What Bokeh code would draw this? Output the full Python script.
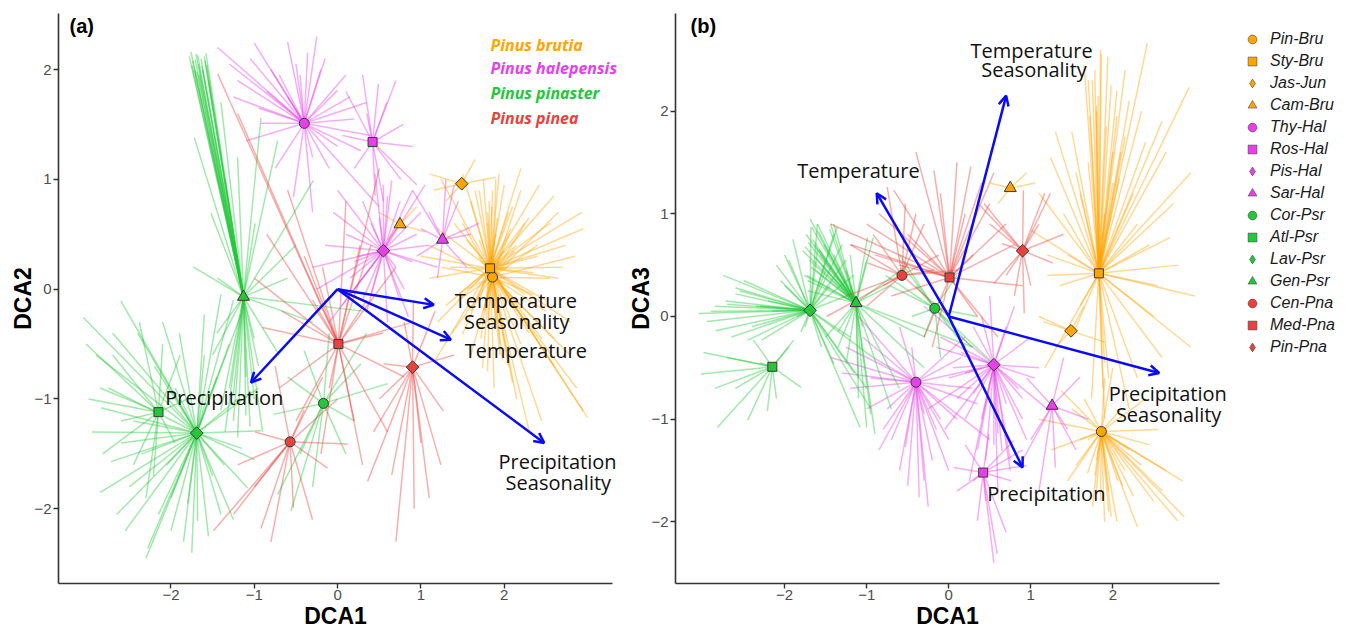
import math
from bokeh.plotting import figure
from bokeh.models import (ColumnDataSource, Arrow, OpenHead, LabelSet, Label, Legend,
                          LegendItem, FixedTicker, Range1d, LinearAxis)
from bokeh.core.properties import value
from bokeh.embed import file_html
from bokeh.resources import INLINE

# ---------------- data ----------------
groups = ["Pin-Bru", "Sty-Bru", "Jas-Jun", "Cam-Bru", "Thy-Hal", "Ros-Hal", "Pis-Hal", "Sar-Hal",
          "Cor-Psr", "Atl-Psr", "Lav-Psr", "Gen-Psr", "Cen-Pna", "Med-Pna", "Pin-Pna"]
species = ["Pinus brutia"] * 4 + ["Pinus halepensis"] * 4 + ["Pinus pinaster"] * 4 + ["Pinus pinea"] * 3
shapes = ["circle", "square", "diamond", "triangle"] * 3 + ["circle", "square", "diamond"]

cen_dca1 = [1.86, 1.83, 1.49, 0.75, -0.40, 0.42, 0.55, 1.26, -0.17, -2.15, -1.69, -1.13, -0.57, 0.01, 0.90]
cen_dca2 = [0.11, 0.19, 0.96, 0.59, 1.51, 1.34, 0.35, 0.45, -1.04, -1.12, -1.31, -0.07, -1.39, -0.50, -0.71]
cen_dca3 = [-1.12, 0.42, -0.14, 1.25, -0.64, -1.52, -0.47, -0.87, 0.08, -0.49, 0.06, 0.13, 0.40, 0.38, 0.64]

# sample scores (DCA1, DCA2, DCA3) per group
pin_bru_dca1 = [2.06, 2.79, 1.69, 1.37, 2.87, 2.50, 1.95, 1.80, 2.20, 1.50, 2.40, 1.60, 2.10, 2.65, 1.25, 1.90, 2.30, 1.75, 2.00, 1.45, 2.55, 2.85, 1.65, 2.15, 1.10, 2.45,
                1.95, 1.80, 2.25, 1.55, 2.05, 2.35, 1.70, 2.60, 1.85, 1.98, 1.90, 2.12, 1.78]
pin_bru_dca2 = [0.50, -0.60, 0.30, -0.40, -0.90, -0.20, -0.50, 0.70, 0.90, 0.60, 0.40, -0.60, -0.85, 0.70, 0.20, 1.00, -0.40, -0.20, 0.10, -0.10, 0.10, 0.30, 0.90, -1.00, 0.40, -1.20,
                0.25, -0.30, 0.60, 0.00, -0.70, -0.05, 0.45, -0.45, 0.75, -0.65, 0.15, 0.35, -0.15]
pin_bru_dca3 = [-1.60, -1.99, -1.53, -0.72, -1.95, -1.80, -1.70, -1.40, -1.30, -0.90, -0.80, -1.20, -0.90, -1.50, -1.30, -0.60, -2.05, -1.85, -0.50, -1.60, -1.10, -1.60, -0.80, -1.50, -1.00, -1.25,
                -1.90, -1.70, -1.75, -1.45, -2.00, -1.45, -1.20, -1.70, -1.80, -1.95, -2.00, -1.65, -1.55]

sty_bru_dca1 = [2.42, 1.94, 2.93, 2.20, 1.70, 2.60, 1.24, 1.50, 2.10, 1.80, 2.74, 2.70, 2.50, 2.95, 1.00, 1.10, 1.35, 1.20, 1.60, 2.00, 2.30, 1.90, 1.50, 1.17, 1.74, 2.30, 2.95, 3.00, 2.60, 2.20, 1.90, 1.60, 2.80, 2.40, 1.85, 2.05, 1.70, 2.15, 1.40, 2.55,
                1.55, 2.05, 2.25, 1.45, 1.95, 2.35, 1.65, 2.15, 1.75, 1.88, 2.45, 1.30, 2.65, 1.20,
                1.82, 1.92, 1.78, 2.00, 1.86, 1.72, 1.98, 2.08, 1.80, 1.90]
sty_bru_dca2 = [0.95, 1.05, 0.70, 1.10, 0.90, 0.85, 1.00, 1.05, 0.75, 0.60, 0.40, 0.20, -0.10, 0.55, 0.30, 0.10, 0.20, 0.55, 0.80, 0.95, 0.65, 0.50, -0.41, -0.65, -0.72, -1.29, -1.11, -1.17, -0.70, -0.50, -0.30, -0.20, -0.30, 0.30, 0.30, 0.20, -0.10, -0.20, 0.60, 0.60,
                0.45, 0.70, -0.05, -0.05, -0.60, 0.15, 0.05, 0.40, 1.00, -0.90, -0.45, -0.15, 0.10, -0.30,
                0.80, 0.65, -0.20, 0.35, 0.90, -0.45, 0.05, 0.55, -0.75, 0.20]
sty_bru_dca3 = [2.66, 2.53, 2.23, 2.10, 2.30, 1.90, 1.55, 1.80, 1.60, 2.00, 1.10, 0.77, 0.00, 1.40, 0.84, 1.20, 0.30, 0.60, 1.20, 1.30, 0.90, 1.00, -0.20, -0.50, -0.80, -0.60, -0.30, 0.20, -0.40, -0.90, -1.00, 0.10, 0.50, 1.70, 2.60, 1.95, 1.50, 2.40, 1.00, 0.30,
                1.40, 2.20, 1.20, 0.60, -0.60, 2.00, 2.45, 1.75, 2.30, -0.70, 0.70, 1.80, 1.60, 0.40,
                2.15, 1.85, 2.40, 1.60, 2.55, 1.95, 2.25, 1.35, 2.05, -0.45]

jas_jun_dca1 = [1.10, 1.90, 1.30, 1.65, 1.15]
jas_jun_dca2 = [1.05, 1.02, 0.80, 1.18, 0.90]
jas_jun_dca3 = [0.00, -0.25, -0.30, 0.10, -0.05]

cam_bru_dca1 = [0.50, 1.05, 0.60, 0.95]
cam_bru_dca2 = [0.70, 0.52, 0.45, 0.75]
cam_bru_dca3 = [1.30, 1.30, 1.10, 1.40]

thy_hal_dca1 = [-1.44, -1.25, -1.00, -0.36, 0.00, 0.28, -0.53, -0.92, -1.30, -0.80, -0.60, -0.20, 0.20, 0.40, -0.10, -0.30, -0.75, -1.10, -0.60, 0.10, -1.20, -0.45, 0.35, -0.85, 0.00, 0.50, -0.25, -1.05,
                -0.70, -0.15, -0.95, 0.15, -0.50, -0.30]
thy_hal_dca2 = [2.20, 1.75, 2.24, 2.15, 1.81, 1.26, 0.84, 1.51, 2.05, 2.00, 2.25, 2.00, 1.55, 1.40, 1.10, 0.70, 1.10, 1.35, 1.75, 1.95, 1.90, 1.95, 1.70, 1.80, 1.30, 0.75, 2.30, 2.10,
                1.95, 2.10, 1.65, 1.75, 2.05, 1.20]
thy_hal_dca3 = [-0.40, -0.30, -0.90, -1.76, -1.20, -0.70, -1.27, -0.40, -0.55, -1.10, -1.50, -1.40, -0.20, -0.50, -1.00, -1.60, -0.90, 0.00, -0.10, -1.00, -0.70, -0.30, -0.85, -1.30, -1.50, -1.20, -1.85, -0.20,
                -1.20, -1.10, -0.60, -0.40, -1.65, -0.95]

ros_hal_dca1 = [0.49, 0.59, 0.35, 0.06, 0.79, 0.76, 0.90, 0.45, 0.10, 0.20, 0.70, 0.95, 0.30, 0.55]
ros_hal_dca2 = [1.87, 1.70, 1.60, 1.40, 1.50, 1.00, 1.30, 0.85, 1.80, 1.10, 1.90, 0.95, 1.95, 0.80]
ros_hal_dca3 = [-1.14, -2.31, -1.99, -1.47, -1.21, -1.60, -1.30, -1.80, -1.70, -1.25, -2.10, -1.45, -1.60, -2.40]

pis_hal_dca1 = [0.65, 0.00, -0.30, -0.10, 1.10, 0.60, 0.30, 0.90, 0.20, 0.80, 0.45, 1.00, 0.10, -0.15, 0.35, 0.75, 1.20, 0.05, 0.50, 0.95, 0.25, 0.70, -0.05, 1.05, 0.40, 0.85, -0.25, 0.60,
                0.40, 0.70, 0.15, 0.90, 0.55, 0.30, 0.75, 0.20]
pis_hal_dca2 = [0.99, 0.90, 0.20, -0.30, 0.40, -0.30, 0.80, 0.90, 0.00, 0.00, 1.05, 0.70, 0.50, 0.40, -0.20, -0.10, 0.20, -0.15, 0.65, 0.50, 0.30, 0.20, 0.70, 0.95, -0.05, -0.25, 0.00, 0.85,
                0.60, 0.55, 0.10, 0.25, 0.95, -0.10, 0.80, 0.25]
pis_hal_dca3 = [-1.31, -0.60, 0.10, -0.20, -0.50, -1.14, -0.10, -0.80, -1.00, 0.10, -1.40, -0.20, -0.80, -0.30, -1.30, -1.50, -0.90, -0.50, 0.20, -1.20, -1.60, -0.10, -1.10, -0.60, 0.00, -0.70, -0.90, -1.70,
                -1.00, -0.85, -0.35, -1.00, -1.25, -0.75, -1.40, -0.55]

sar_hal_dca1 = [1.30, 0.90, 1.60, 1.20, 1.45, 0.95, 1.55, 1.10, 1.40, 1.70, 1.00]
sar_hal_dca2 = [1.00, 0.90, 0.50, 0.10, 0.80, 0.30, 0.20, 0.70, 0.95, 0.60, 0.55]
sar_hal_dca3 = [-1.47, -1.40, -0.59, -0.92, -1.10, -0.60, -1.30, -1.70, -0.40, -1.00, -1.20]

cor_psr_dca1 = [-0.56, -0.72, 0.28, -0.77, 0.60, -0.40, -0.30, 0.10, 0.35, -0.10, -0.60, 0.20, -0.45]
cor_psr_dca2 = [-2.02, -1.87, -0.68, -1.14, -0.86, -0.56, -1.80, -1.50, -0.40, -0.40, -0.80, -1.20, -1.50]
cor_psr_dca3 = [0.50, 0.30, -0.30, 0.40, -0.50, 0.30, -0.20, 0.40, 0.00, -0.40, 0.60, -0.30, 0.00]

atl_psr_dca1 = [-3.02, -2.99, -2.38, -1.89, -1.80, -2.21, -2.82, -2.45, -2.70, -2.60, -1.95, -2.10, -2.85, -2.30]
atl_psr_dca2 = [-0.50, -1.00, -0.30, -0.60, -1.00, -1.70, -1.50, -1.60, -0.60, -1.20, -1.40, -0.50, -0.90, -1.90]
atl_psr_dca3 = [-0.56, -0.35, -0.23, -0.23, -0.69, -0.92, -1.08, -1.01, -0.40, -0.70, -0.30, -0.80, -0.70, -0.45]

lav_psr_dca1 = [-3.05, -2.60, -2.84, -2.72, -2.28, -2.00, -1.68, -1.40, -1.08, -0.92, -1.16, -1.60, -2.30, -2.90, -2.95, -2.50, -2.40, -2.10, -1.85, -1.55, -1.25, -1.00, -1.30, -1.45, -2.75, -2.65, -2.00, -1.20, -2.20, -1.90, -2.85, -1.36, -2.45, -1.75, -0.95, -2.55, -1.25, -1.40,
                -2.05, -1.80, -1.50, -2.35, -2.60, -1.15, -1.60, -2.15, -1.95, -2.70]
lav_psr_dca2 = [-0.26, -0.11, -1.08, -1.57, -2.36, -2.20, -2.11, -2.05, -1.81, -1.29, -0.23, -0.23, -2.45, -0.60, -1.30, -1.80, -0.40, -0.30, -2.30, -2.25, -2.10, -1.55, -0.50, -0.80, -0.90, -2.05, -1.90, -1.00, -0.70, -0.40, -1.85, -1.60, -1.20, -2.40, -0.90, -2.20, -0.10, -0.05,
                -1.60, -1.95, -1.70, -1.50, -1.40, -1.45, -0.60, -2.05, -0.90, -0.40]
lav_psr_dca3 = [0.03, 0.22, -0.14, 0.15, -0.23, 0.30, 0.87, -0.46, -1.08, -0.40, 0.40, 0.90, 0.10, 0.05, -0.05, 0.35, -0.10, 0.50, 0.00, -0.30, 0.20, -0.70, 0.70, 0.30, 0.40, -0.20, 0.60, -0.20, 0.15, 0.75, 0.10, 0.87, -0.23, -0.10, -0.90, 0.25, 0.55, 0.80,
                0.35, -0.15, 0.45, 0.10, 0.28, -0.55, 0.65, 0.05, 0.55, 0.12]

gen_psr_dca1 = [-1.78, -1.74, -1.70, -1.67, -1.64, -1.62, -1.60, -1.57, -1.72, -1.66, -1.55, -1.76, -1.69, -1.58,
                -1.72, -0.92, -0.72, -0.29, -1.73, -1.52, -1.40, -1.20, -1.00, -1.25, -0.90, -1.10, -0.30, 0.30,
                -0.50, -1.50, -0.70, -1.30, -0.99, -1.44, -0.60, -1.35, -1.20, -1.05, -1.40,
                -1.71, -1.63, -1.59, -1.68, -1.75, -1.10, -1.25, -0.95, -1.35, -1.45, -1.00]
gen_psr_dca2 = [2.12, 2.08, 2.14, 2.05, 2.10, 2.00, 2.12, 2.04, 2.00, 1.95, 1.90, 2.16, 1.98, 2.15,
                1.38, 1.56, 1.35, 0.99, 0.20, 0.69, 1.70, 1.20, -1.00, -1.20, -1.30, -0.80, -0.30, -0.20,
                0.40, -0.60, -0.60, -0.90, 0.60, 0.10, 0.10, 1.00, -1.35, -1.25, -1.10,
                2.09, 2.03, 2.08, 2.13, 2.04, -1.15, -0.95, -0.70, -1.30, -0.40, -0.45]
gen_psr_dca3 = [0.64, 0.80, 0.55, 0.87, 0.70, 0.45, 0.90, 0.60, 0.35, 0.75, 0.50, 0.40, 0.95, 0.65,
                0.25, 0.77, 0.30, -0.20, 0.40, 0.70, 0.90, 0.60, -1.08, -0.46, -1.14, -0.60, -0.50, -0.30,
                0.50, -0.20, -0.90, 0.20, 0.77, 0.90, -0.70, -0.30, 0.30, -0.10, 0.60,
                0.72, 0.58, 0.83, 0.48, 0.68, -0.80, 0.45, -0.95, -0.15, 0.85, 0.55]

cen_pna_dca1 = [-1.49, -1.25, -0.92, -0.53, 0.12, -0.12, -0.75, -0.99, -0.18, -1.00, -0.30, -0.80, 0.00, -1.20, -0.40]
cen_pna_dca2 = [-2.20, -2.05, -2.18, -1.99, -1.41, -1.63, -0.70, -1.30, -0.80, -1.80, -2.10, -2.30, -1.00, -1.60, -1.10]
cen_pna_dca3 = [0.00, 0.20, 0.80, 1.10, 0.45, 0.60, 1.26, 0.52, 0.45, 0.10, 0.90, 0.30, 0.00, 0.70, 1.00]

med_pna_dca1 = [-0.67, 0.27, -0.18, -1.44, -1.20, 0.50, -0.90, 0.90, -0.20, 0.40, -0.50, 0.60, 0.70, -0.40, 0.20, -0.70, 0.80, 0.10, -0.30, 0.35, -0.85, -0.10, 0.55, -0.60, 0.30, -1.00]
med_pna_dca2 = [-0.20, 0.40, 0.20, 1.96, 1.60, 1.10, -0.35, -0.30, -1.50, 0.40, -1.20, -1.30, 0.20, 0.30, -1.20, -0.90, -0.80, 0.80, -0.10, -0.10, 0.50, -0.90, -0.40, 0.90, -1.60, 0.10]
med_pna_dca3 = [1.23, 1.46, 1.42, 0.90, 0.70, 1.10, 0.60, 0.30, -0.30, 1.30, 0.80, -0.20, 0.90, 1.60, 1.00, 0.20, 0.70, 1.50, -0.20, 0.00, 1.00, 1.20, 1.40, 0.50, 0.60, 0.90]

pin_pna_dca1 = [0.36, 0.65, 1.27, 1.17, 0.91, 0.55, 0.43, 0.92, 1.24, 0.70, 1.10, 0.80, 1.40, 0.50, 1.00]
pin_pna_dca2 = [-1.75, -1.69, -1.11, -0.20, -0.11, -0.68, -1.30, -2.00, -1.60, -2.30, -1.90, -0.30, -0.60, -1.00, -1.40]
pin_pna_dca3 = [1.10, 0.71, 0.52, 1.20, 1.23, 0.32, 1.10, 0.03, 1.20, 0.40, 0.90, 0.20, 0.80, 0.90, 0.30]

samples_dca1 = [pin_bru_dca1, sty_bru_dca1, jas_jun_dca1, cam_bru_dca1, thy_hal_dca1, ros_hal_dca1, pis_hal_dca1,
                sar_hal_dca1, cor_psr_dca1, atl_psr_dca1, lav_psr_dca1, gen_psr_dca1, cen_pna_dca1, med_pna_dca1, pin_pna_dca1]
samples_dca2 = [pin_bru_dca2, sty_bru_dca2, jas_jun_dca2, cam_bru_dca2, thy_hal_dca2, ros_hal_dca2, pis_hal_dca2,
                sar_hal_dca2, cor_psr_dca2, atl_psr_dca2, lav_psr_dca2, gen_psr_dca2, cen_pna_dca2, med_pna_dca2, pin_pna_dca2]
samples_dca3 = [pin_bru_dca3, sty_bru_dca3, jas_jun_dca3, cam_bru_dca3, thy_hal_dca3, ros_hal_dca3, pis_hal_dca3,
                sar_hal_dca3, cor_psr_dca3, atl_psr_dca3, lav_psr_dca3, gen_psr_dca3, cen_pna_dca3, med_pna_dca3, pin_pna_dca3]

# environmental vectors: Temp. Seasonality, Temperature, Precipitation, Prec. Seasonality
env_a_x = [1.155, 1.36, -1.04, 2.48]
env_a_y = [-0.143, -0.46, -0.85, -1.40]
env_b_x = [0.70, -0.878, 0.90, 2.565]
env_b_y = [2.15, 1.20, -1.47, -0.55]

env_label_lines = ["Temperature", "Seasonality", "Temperature", "Precipitation", "Precipitation", "Seasonality"]
env_lab_a_x = [2.14, 2.15, 2.26, -1.36, 2.64, 2.65]
env_lab_a_y = [-0.10, -0.29, -0.56, -0.99, -1.57, -1.76]
env_lab_b_x = [1.01, 1.04, -1.10, 1.19, 2.67, 2.68]
env_lab_b_y = [2.59, 2.40, 1.42, -1.72, -0.75, -0.955]

species_names = ["Pinus brutia", "Pinus halepensis", "Pinus pinaster", "Pinus pinea"]
species_lab_x = [1.835, 1.835, 1.835, 1.835]
species_lab_y = [2.22, 2.01, 1.79, 1.56]

ticks = [-2, -1, 0, 1, 2]
xa_lim = (-3.35, 3.30)
ya_lim = (-2.68, 2.51)
xb_lim = (-3.33, 3.30)
yb_lim = (-2.60, 2.95)

# ---------------- layout / styles ----------------
W, H = 1351, 627
A_PX = (58, 612)                    # panel a axis extents in canvas px (x)
B_PX = (675, 1219)                  # panel b
Y_PX = (583, 13)                    # bottom, top (canvas px, y down)


def full_range(lim, p0, p1, c0, c1):
    k = (lim[1] - lim[0]) / (p1 - p0)
    return lim[0] + (c0 - p0) * k, lim[0] + (c1 - p0) * k


def to_data(lim, p0, p1, c):
    k = (lim[1] - lim[0]) / (p1 - p0)
    return lim[0] + (c - p0) * k


COLORS = {"Pinus brutia": "#FFA500", "Pinus halepensis": "#E83FE8",
          "Pinus pinaster": "#22C83A", "Pinus pinea": "#E8423F"}
MARK = {"circle": ("circle", 0.0, 10), "square": ("square", 0.0, 9),
        "diamond": ("square", math.pi / 4, 9), "triangle": ("triangle", 0.0, 12)}
LEGEND_MARK = {"circle": "circle", "square": "square", "diamond": "diamond", "triangle": "triangle"}
ARROW_BLUE = "#0A0AF5"

xa_full = full_range(xa_lim, *A_PX, 0, W)
ya_full = full_range(ya_lim, *Y_PX, H, 0)
xb_full = full_range(xb_lim, *B_PX, 0, W)
yb_full = full_range(yb_lim, *Y_PX, H, 0)

p = figure(width=W, height=H, x_range=Range1d(*xa_full), y_range=Range1d(*ya_full),
           x_axis_type=None, y_axis_type=None, output_backend="svg", toolbar_location=None,
           min_border=0, min_border_left=0, min_border_right=0, min_border_top=0, min_border_bottom=0)
p.extra_x_ranges = {"xb": Range1d(*xb_full)}
p.extra_y_ranges = {"yb": Range1d(*yb_full)}
p.outline_line_color = None
p.background_fill_color = "white"
p.border_fill_color = "white"


def style_axis(ax, standoff):
    ax.ticker = FixedTicker(ticks=ticks)
    ax.major_label_overrides = {-2: "\u22122", -1: "\u22121", 0: "0", 1: "1", 2: "2"}
    ax.axis_line_color = "#333333"
    ax.axis_line_width = 1.6
    ax.major_tick_line_color = "#333333"
    ax.major_tick_line_width = 1.4
    ax.major_tick_in = 0
    ax.major_tick_out = 5
    ax.minor_tick_line_color = None
    ax.major_label_text_font = "Liberation Sans"
    ax.major_label_text_font_size = "15px"
    ax.major_label_text_color = "#4D4D4D"
    ax.major_label_standoff = standoff


panels = [
    dict(rx="default", ry="default", xlim=xa_lim, ylim=ya_lim, cy=cen_dca2, sy=samples_dca2,
         ex=env_a_x, ey=env_a_y, lx=env_lab_a_x, ly=env_lab_a_y, px=A_PX, tag="(a)", ylab="DCA2",
         tag_px=(69, 25), ylab_px=22),
    dict(rx="xb", ry="yb", xlim=xb_lim, ylim=yb_lim, cy=cen_dca3, sy=samples_dca3,
         ex=env_b_x, ey=env_b_y, lx=env_lab_b_x, ly=env_lab_b_y, px=B_PX, tag="(b)", ylab="DCA3",
         tag_px=(690, 25), ylab_px=640),
]

for pi_, P in enumerate(panels):
    rk = dict(x_range_name=P["rx"], y_range_name=P["ry"])
    # axes (fixed at the panel's data extent, drawn through Bokeh's own axes)
    xax = LinearAxis(fixed_location=P["ylim"][0], bounds=P["xlim"], **rk)
    style_axis(xax, 1)
    p.add_layout(xax, "below")
    yax = LinearAxis(fixed_location=P["xlim"][0], bounds=P["ylim"], **rk)
    style_axis(yax, 2)
    p.add_layout(yax, "left")

    # spider spokes
    for gi, g in enumerate(groups):
        sx = samples_dca1[gi]
        sy = P["sy"][gi]
        src = ColumnDataSource(dict(x0=[cen_dca1[gi]] * len(sx), y0=[P["cy"][gi]] * len(sx), x1=sx, y1=sy))
        p.segment("x0", "y0", "x1", "y1", source=src, line_color=COLORS[species[gi]],
                  line_alpha=0.42, line_width=1.5, **rk)

    # centroids
    for gi, g in enumerate(groups):
        m, ang, sz = MARK[shapes[gi]]
        p.scatter(x=[cen_dca1[gi]], y=[P["cy"][gi]], marker=m, angle=ang, size=sz,
                  fill_color=COLORS[species[gi]], line_color="#3A3A3A", line_width=1, **rk)

    # environmental arrows
    asrc = ColumnDataSource(dict(x0=[0.0] * len(P["ex"]), y0=[0.0] * len(P["ey"]), x1=P["ex"], y1=P["ey"]))
    p.add_layout(Arrow(end=OpenHead(size=10, line_color=ARROW_BLUE, line_width=2.5),
                       x_start="x0", y_start="y0", x_end="x1", y_end="y1", source=asrc,
                       line_color=ARROW_BLUE, line_width=2.5, **rk))
    lsrc = ColumnDataSource(dict(x=P["lx"], y=P["ly"], text=env_label_lines))
    p.add_layout(LabelSet(x="x", y="y", text="text", source=lsrc, text_font=value("Open Sans"),
                          text_font_size="20px", text_align="center", text_baseline="middle",
                          text_color="#111111", **rk))

    # panel tag, axis titles
    p.add_layout(Label(x=to_data(P["xlim"], *P["px"], P["tag_px"][0]),
                       y=to_data(P["ylim"], *Y_PX, P["tag_px"][1]), text=P["tag"],
                       text_font="Liberation Sans", text_font_style="bold", text_font_size="20px",
                       text_baseline="middle", text_align="left", text_color="black", **rk))
    p.add_layout(Label(x=to_data(P["xlim"], *P["px"], P["ylab_px"]),
                       y=to_data(P["ylim"], *Y_PX, 298), text=P["ylab"], angle=math.pi / 2,
                       text_font="Liberation Sans", text_font_style="bold", text_font_size="23px",
                       text_align="center", text_baseline="middle", text_color="black", **rk))
    p.add_layout(Label(x=sum(P["xlim"]) / 2, y=to_data(P["ylim"], *Y_PX, 615), text="DCA1",
                       text_font="Liberation Sans", text_font_style="bold", text_font_size="23px",
                       text_align="center", text_baseline="middle", text_color="black", **rk))

# species key in panel (a)
ssrc = ColumnDataSource(dict(x=species_lab_x, y=species_lab_y, text=species_names,
                             color=[COLORS[s] for s in species_names]))
p.add_layout(LabelSet(x="x", y="y", text="text", source=ssrc, text_color="color",
                      text_font=value("Noto Sans"), text_font_style="bold italic",
                      text_font_size="16px", text_align="left", text_baseline="middle"))

# group legend for panel (b): key glyphs placed off-canvas (NaN) so only the key shows them
legend_renderers = []
for gi, g in enumerate(groups):
    r = p.scatter(x=[float("nan")], y=[float("nan")], marker=LEGEND_MARK[shapes[gi]], size=10,
                  fill_color=COLORS[species[gi]], line_color="#3A3A3A", line_alpha=0.55,
                  line_width=1, x_range_name="xb", y_range_name="yb")
    legend_renderers.append(r)

legend = Legend(items=[LegendItem(label=g, renderers=[r]) for g, r in zip(groups, legend_renderers)],
                location=(1240, 269), glyph_width=24, glyph_height=22, label_height=22,
                label_standoff=6, spacing=0, padding=4, margin=0,
                border_line_color=None, background_fill_alpha=0,
                label_text_font="Liberation Sans", label_text_font_style="italic",
                label_text_font_size="16px", label_text_color="#1A1A1A")
p.add_layout(legend)

open("out.html", "w").write(file_html(p, INLINE))
